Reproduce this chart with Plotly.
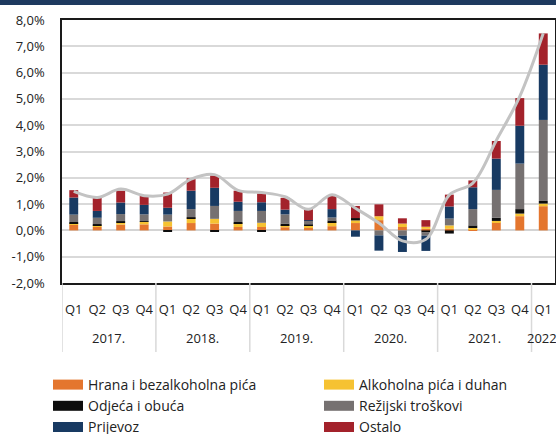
import plotly.graph_objects as go

years = ["2017."] * 4 + ["2018."] * 4 + ["2019."] * 4 + ["2020."] * 4 + ["2021."] * 4 + ["2022."]
quarters = ["Q1", "Q2", "Q3", "Q4"] * 5 + ["Q1"]

hrana =     [0.22, 0.13, 0.22, 0.23, 0.15, 0.28, 0.26, 0.13, 0.13, 0.12, 0.09, 0.16, 0.28, 0.39, 0.13, 0.06, 0.06, 0.04, 0.30, 0.54, 0.92]
alkohol =   [0.06, 0.06, 0.08, 0.09, 0.19, 0.19, 0.18, 0.15, 0.16, 0.08, 0.08, 0.15, 0.10, 0.15, 0.13, 0.08, 0.13, 0.05, 0.06, 0.10, 0.10]
odjeca =    [0.04, 0.05, 0.05, 0.03, -0.04, 0.03, -0.05, 0.04, -0.05, 0.06, 0.05, 0.07, 0.09, 0.00, 0.00, -0.08, -0.12, 0.10, 0.12, 0.17, 0.10]
rezijski =  [0.28, 0.24, 0.27, 0.26, 0.26, 0.31, 0.49, 0.42, 0.45, 0.35, 0.14, 0.11, 0.00, -0.19, -0.20, -0.12, 0.26, 0.62, 1.06, 1.73, 3.08]
prijevoz =  [0.65, 0.26, 0.44, 0.36, 0.26, 0.70, 0.69, 0.35, 0.33, 0.18, 0.03, 0.32, -0.24, -0.58, -0.62, -0.58, 0.46, 0.83, 1.19, 1.44, 2.10]
ostalo =    [0.28, 0.50, 0.45, 0.35, 0.58, 0.47, 0.47, 0.42, 0.33, 0.45, 0.42, 0.53, 0.46, 0.45, 0.20, 0.25, 0.45, 0.26, 0.67, 1.05, 1.19]
ukupno =    [1.48, 1.25, 1.57, 1.32, 1.38, 1.95, 2.12, 1.52, 1.44, 1.28, 0.80, 1.36, 0.84, 0.28, -0.40, -0.34, 1.35, 1.80, 3.42, 5.10, 7.50]

series_names = ["Hrana i bezalkoholna pića", "Alkoholna pića i duhan", "Odjeća i obuća",
                "Režijski troškovi", "Prijevoz", "Ostalo"]
series_values = [hrana, alkohol, odjeca, rezijski, prijevoz, ostalo]
series_colors = ["#E4762E", "#F6C232", "#0D0D0D", "#767171", "#183A62", "#A3222B"]

y_tickvals = [-2, -1, 0, 1, 2, 3, 4, 5, 6, 7, 8]
y_ticktext = ["-2,0%", "-1,0%", "0,0%", "1,0%", "2,0%", "3,0%", "4,0%", "5,0%", "6,0%", "7,0%", "8,0%"]

FONT = "Open Sans"
TXT = "#222222"

# unique category keys built from year + quarter
cats = [f"{y} {q}" for y, q in zip(years, quarters)]

fig = go.Figure()
for name, vals, col in zip(series_names, series_values, series_colors):
    fig.add_trace(go.Bar(x=cats, y=vals, name=name, legendgroup=name, showlegend=False,
                         marker=dict(color=col, line=dict(width=0))))

fig.add_trace(go.Scatter(x=cats, y=ukupno, mode="lines",
                         line=dict(color="#C3C3C3", width=3, shape="spline", smoothing=1),
                         showlegend=False, hoverinfo="skip"))

# legend entries drawn as wide colour swatches
for name, col in zip(series_names, series_colors):
    fig.add_trace(go.Scatter(x=[None], y=[None], mode="lines", name=name, legendgroup=name,
                             line=dict(color=col, width=10), hoverinfo="skip"))

W, H = 556, 434
top, bottom, left, right = 20, 283, 62, 555
ph = bottom - top
pw = right - left

# year group labels and dividers
shapes = [dict(type="rect", xref="paper", yref="paper",
               x0=-0.2, x1=1.2, y0=1 + (top - 5) / ph, y1=1 + (top + 2) / ph,
               fillcolor="#1E3A5F", line=dict(width=0), layer="above")]
annotations = []
groups = []
for i, y in enumerate(years):
    if not groups or groups[-1][0] != y:
        groups.append([y, i, i])
    else:
        groups[-1][2] = i
div_y1 = -(352 - bottom) / ph
for y, i0, i1 in groups:
    annotations.append(dict(x=(i0 + i1) / 2, y=-(338 - bottom) / ph, xref="x", yref="paper",
                            text=y, showarrow=False, xanchor="center", yanchor="middle",
                            font=dict(family=FONT, size=13, color=TXT)))
    shapes.append(dict(type="line", xref="x", yref="paper", x0=i0 - 0.5, x1=i0 - 0.5,
                       y0=0, y1=div_y1, line=dict(color="#D9D9D9", width=1.5)))

fig.update_layout(
    width=W, height=H,
    margin=dict(l=left, r=W - right, t=top, b=H - bottom, pad=0, autoexpand=False),
    barmode="relative",
    bargap=0.62,
    plot_bgcolor="white",
    paper_bgcolor="white",
    font=dict(family=FONT, size=13, color=TXT),
    legend=dict(orientation="h", x=(48 - left) / pw, xanchor="left",
                y=(bottom - 369) / ph, yanchor="top",
                entrywidth=226, entrywidthmode="pixels",
                font=dict(family=FONT, size=14, color=TXT),
                traceorder="normal", tracegroupgap=0),
    shapes=shapes,
    annotations=annotations,
)

fig.update_yaxes(range=[-2, 8], tickvals=y_tickvals, ticktext=y_ticktext,
                 showgrid=True, gridcolor="#D9D9D9", gridwidth=2,
                 zeroline=True, zerolinecolor="#D4D4D4", zerolinewidth=2,
                 showline=True, linecolor="#1A1A1A", linewidth=1.5, mirror=True,
                 ticks="", ticklabelstandoff=13,
                 tickfont=dict(size=13, color=TXT))
fig.update_xaxes(type="category", range=[-0.5, len(cats) - 0.5],
                 tickvals=cats, ticktext=quarters,
                 showline=True, linecolor="#1A1A1A", linewidth=1.5,
                 mirror=True, showgrid=False, ticks="", tickangle=0,
                 ticklabelstandoff=14,
                 tickfont=dict(size=13, color=TXT))

fig.write_html("out.html", config={"displayModeBar": False},
               post_script="document.body.style.margin='0';")
